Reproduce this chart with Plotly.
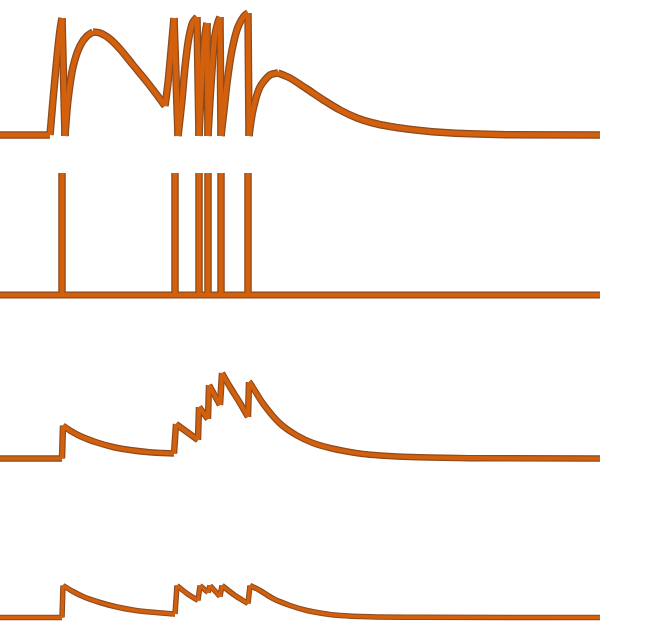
import plotly.graph_objects as go

# Panel 1: membrane potential (time, height above baseline)
t1 = [0, 50, 53, 57, 60, 62, 65, 68, 73, 80, 87, 93, 100, 110, 120, 133, 147, 157,
      165, 168, 172, 174, 178, 182, 185, 189, 193, 197, 199, 202, 205, 207, 208,
      211, 215, 218, 220, 221, 224, 227, 232, 238, 245, 248, 249, 253, 260, 270, 278,
      290, 307, 325, 340, 357, 373, 390, 407, 425, 440, 470, 507, 600]
v1 = [0, 0, 35, 78, 105, 117, -1, 35, 68, 89, 99, 103, 102, 96, 86, 70, 53, 40,
      29, 52, 95, 117, -1, 35, 68, 98, 113, 118, -1, 60, 100, 112, -1,
      50, 100, 113, 118, -1, 25, 52, 85, 108, 120, 122, -1, 25, 48, 60, 62,
      57, 46, 34, 25, 17, 12, 8.5, 6, 4, 2.8, 1.2, 0.3, 0]

# Panel 2: spike train
t2 = [0, 62, 62, 62, 175, 175, 175, 199, 199, 199, 208, 208, 208,
      221, 221, 221, 248, 248, 248, 600]
v2 = [0, 0, 122, 0, 0, 122, 0, 0, 122, 0, 0, 122, 0,
      0, 122, 0, 0, 122, 0, 0]

# Panel 3: summed response (facilitating)
t3 = [0, 62, 63, 70, 80, 97, 113, 130, 147, 163, 174, 176, 187, 198, 199, 208, 209,
      220, 222, 230, 240, 248, 249, 250, 263, 280, 297, 313, 330, 347, 363, 380,
      397, 430, 470, 600]
v3 = [0, 0, 33, 28, 22.5, 16, 11.5, 8.5, 6.5, 5.5, 5, 34.5, 26.5, 18.5, 51.5,
      39.5, 73.5, 53.5, 85.5, 71.5, 55.5, 41.5, 76.5, 75.5, 55, 35, 23, 15.5,
      10.5, 7, 4.5, 3, 2, 1, 0.3, 0]

# Panel 4: summed response (depressing)
t4 = [0, 62, 63, 73, 83, 100, 117, 133, 150, 173, 175, 177, 187, 198, 200, 208, 210,
      220, 222, 235, 248, 250, 260, 273, 290, 307, 323, 340, 370, 420, 600]
v4 = [0, 0, 32, 26, 21, 15, 10.5, 7.5, 5.5, 3.5, 3.5, 32, 24, 17, 32, 25, 32, 21, 32, 22,
      14, 32, 27, 19, 12, 7, 4, 2, 0.7, 0.2, 0]

for a, b in [(t1, v1), (t2, v2), (t3, v3), (t4, v4)]:
    assert len(a) == len(b)

W, H = 654, 627
baselines = [135, 295, 458.5, 617.5]
widths = [(7.5, 5), (7, 4.6), (6.5, 4.2), (5.5, 3.4)]
OUTLINE = "#8c4a1f"
INNER = "#d2600c"


def segments(t, v):
    """Split a polyline at its turning points so each smooth part can be a spline."""
    cuts = [0]
    for i in range(1, len(t) - 1):
        if (v[i] - v[i - 1]) * (v[i + 1] - v[i]) <= 0:
            cuts.append(i)
    cuts.append(len(t) - 1)
    return [(t[a:b + 1], v[a:b + 1]) for a, b in zip(cuts[:-1], cuts[1:])]


fig = go.Figure()
series = [(t1, v1), (t2, v2), (t3, v3), (t4, v4)]
for layer in ("outline", "inner"):
    for i, ((t, v), (wo, wi)) in enumerate(zip(series, widths)):
        ax = "y" if i == 0 else f"y{i+1}"
        for st, sv in segments(t, v):
            fig.add_trace(go.Scatter(
                x=st, y=sv, mode="lines", yaxis=ax,
                line=dict(color=OUTLINE if layer == "outline" else INNER,
                          width=wo if layer == "outline" else wi,
                          shape="spline" if len(st) > 2 else "linear",
                          smoothing=0.8),
                hoverinfo="skip", showlegend=False))

axis_common = dict(visible=False, showgrid=False, zeroline=False, fixedrange=True)
layout = dict(
    width=W, height=H,
    margin=dict(l=0, r=0, t=0, b=0),
    paper_bgcolor="white", plot_bgcolor="white",
    xaxis=dict(range=[0, W], domain=[0, 1], **axis_common),
    showlegend=False,
)
for i, b in enumerate(baselines):
    key = "yaxis" if i == 0 else f"yaxis{i+1}"
    d = dict(range=[b - H, b], domain=[0, 1], **axis_common)
    if i > 0:
        d["overlaying"] = "y"
    layout[key] = d
fig.update_layout(**layout)
fig.write_html("out.html",
               config={"displayModeBar": False, "staticPlot": True},
               post_script="document.body.style.margin='0';document.body.style.overflow='hidden';")
